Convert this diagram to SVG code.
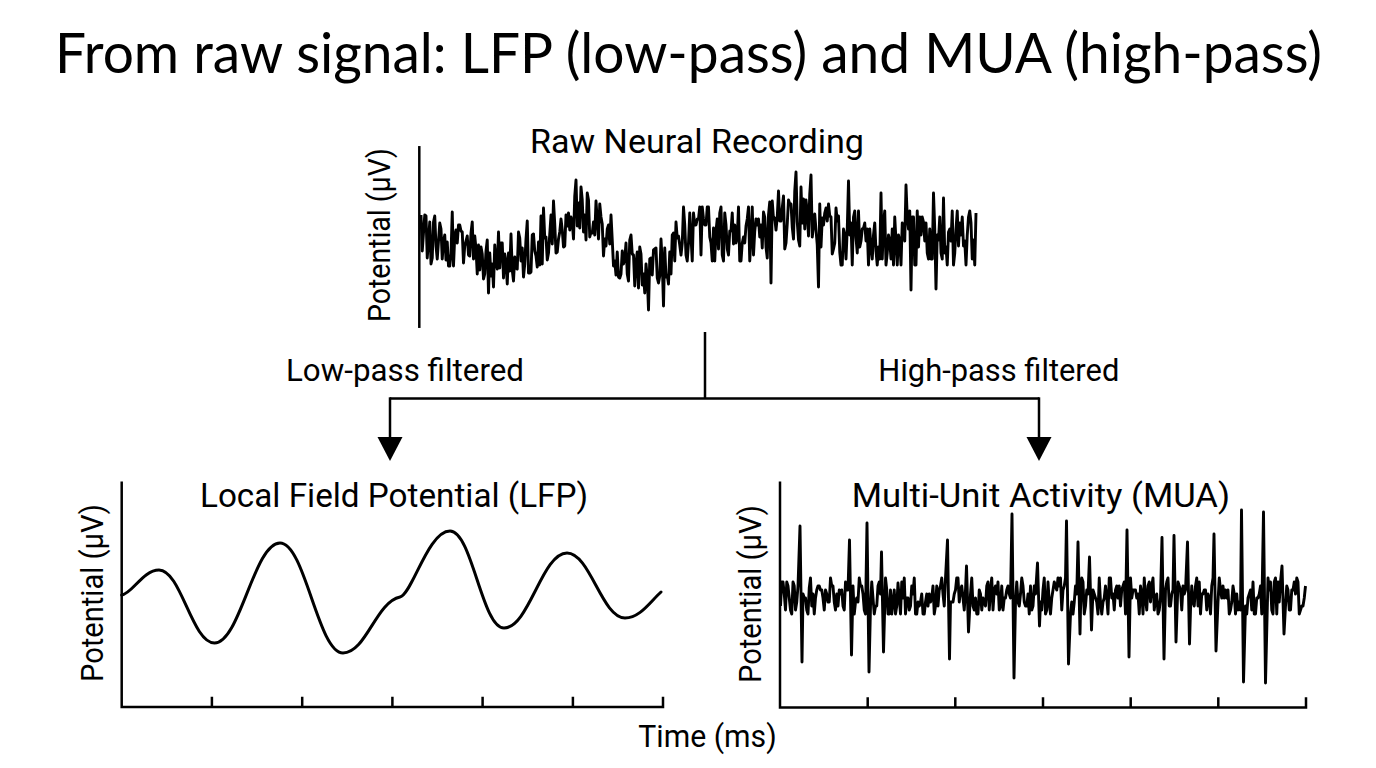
<svg xmlns="http://www.w3.org/2000/svg" width="1376" height="768" viewBox="0 0 1376 768">
<style>
.ax{fill:none;stroke:#000;stroke-width:2.5;stroke-linecap:square}
.sig{fill:none;stroke:#000;stroke-width:2.9;stroke-linejoin:round}
.lfp{fill:none;stroke:#000;stroke-width:3;stroke-linecap:round}
.con{fill:none;stroke:#000;stroke-width:2.5}
.t{font-family:Roboto,"Liberation Sans",sans-serif;fill:#000}
.h{font-size:33px}
.l{font-size:31px}
.title{font-family:Lato,"Open Sans","Liberation Sans",sans-serif;font-size:56px;fill:#000}
</style>
<defs>
<marker id="ah" markerUnits="userSpaceOnUse" markerWidth="25" markerHeight="26" refX="0" refY="12.5" orient="auto" viewBox="0 0 25 25">
<path d="M0,0 L24,12.5 L0,25 Z" fill="#000"/>
</marker>
</defs>
<rect width="1376" height="768" fill="#fff"/>
<text id="title" class="title" x="55" y="73" textLength="1267" lengthAdjust="spacingAndGlyphs">From raw signal: LFP (low-pass) and MUA (high-pass)</text>

<g id="raw">
<text class="t h" x="530" y="153" textLength="334" lengthAdjust="spacingAndGlyphs">Raw Neural Recording</text>
<text class="t l" transform="translate(389.5,235) rotate(-90)" text-anchor="middle" textLength="174" lengthAdjust="spacingAndGlyphs">Potential (μV)</text>
<path class="ax" d="M419.3,147.3 V326.7"/>
<polyline class="sig" vector-effect="non-scaling-stroke" transform="translate(421,0) scale(1.25,1)" points="0,215 1,251 2,233 3,215 4,216 5,258 6,240 7,222 8,264 9,258 10,222 11,216 12,246 13,259 14,241 15,223 16,229 17,259 18,241 19,235 20,260 21,242 22,266 23,266 24,254 25,212 26,266 27,236 28,230 29,243 30,225 31,225 32,231 33,232 34,263 35,246 36,241 37,236 38,255 39,256 40,233 41,222 42,259 43,236 44,249 45,274 46,245 47,270 48,247 49,254 50,279 51,274 52,251 53,240 54,293 55,253 56,276 57,264 58,287 59,245 60,263 61,269 62,232 63,268 64,243 65,243 66,278 67,254 68,262 69,284 70,253 71,271 72,234 73,270 74,281 75,257 76,268 77,269 78,232 79,238 80,261 81,248 82,277 83,264 84,239 85,221 86,273 87,273 88,272 89,235 90,234 91,251 92,256 93,267 94,242 95,265 96,216 97,264 98,208 99,238 100,237 101,260 102,253 103,234 104,215 105,244 106,201 107,224 108,253 109,252 110,239 111,232 112,219 113,230 114,247 115,246 116,215 117,226 118,213 119,230 120,217 121,222 122,239 123,196 124,180 125,226 126,203 127,228 128,187 129,200 130,232 131,215 132,240 133,193 134,200 135,237 136,232 137,233 138,222 139,235 140,201 141,220 142,239 143,204 144,217 145,224 146,256 147,239 148,246 149,229 150,225 151,244 152,215 153,240 154,266 155,261 156,275 157,252 158,277 159,278 160,274 161,251 162,264 163,259 164,243 165,274 166,281 167,240 168,235 169,254 170,255 171,286 172,263 173,252 174,288 175,247 176,254 177,285 178,274 179,293 180,264 181,277 182,310 183,259 184,258 185,275 186,250 187,249 188,248 189,278 190,283 191,276 192,239 193,262 194,306 195,248 196,277 197,275 198,284 199,252 200,274 201,235 202,233 203,261 204,222 205,238 206,236 207,245 208,255 209,243 210,207 211,225 212,255 213,261 214,243 215,213 216,237 217,261 218,213 219,225 220,225 221,219 222,219 223,207 224,255 225,207 226,219 227,225 228,225 229,207 230,207 231,237 232,243 233,261 234,228 235,261 236,231 237,219 238,249 239,213 240,207 241,255 242,261 243,213 244,225 245,249 246,255 247,231 248,231 249,213 250,244 251,225 252,243 253,237 254,207 255,261 256,261 257,243 258,237 259,243 260,226 261,219 262,207 263,261 264,237 265,207 266,255 267,231 268,219 269,225 270,219 271,237 272,225 273,248 274,212 275,217 276,247 277,258 278,215 279,202 280,283 281,201 282,219 283,218 284,230 285,217 286,191 287,221 288,221 289,208 290,196 291,249 292,243 293,224 294,200 295,204 296,204 297,227 298,239 299,191 300,172 301,222 302,240 303,246 304,187 305,223 306,199 307,229 308,200 309,212 310,236 311,194 312,175 313,237 314,225 315,214 316,230 317,245 318,287 319,204 320,247 321,218 322,225 323,213 324,208 325,221 326,204 327,216 328,217 329,254 330,249 331,243 332,208 333,221 334,216 335,252 336,265 337,265 338,229 339,235 340,259 341,229 342,181 343,235 344,223 345,265 346,217 347,211 348,238 349,253 350,211 351,247 352,241 353,229 354,228 355,223 356,241 357,229 358,265 359,229 360,247 361,259 362,235 363,223 364,251 365,265 366,247 367,259 368,193 369,259 370,223 371,211 372,265 373,253 374,235 375,241 376,259 377,229 378,265 379,217 380,241 381,265 382,235 383,241 384,265 385,223 386,229 387,241 388,185 389,217 390,229 391,211 392,290 393,217 394,217 395,265 396,265 397,211 398,247 399,217 400,235 401,217 402,222 403,241 404,223 405,253 406,259 407,229 408,259 409,259 410,193 411,229 412,289 413,235 414,240 415,217 416,253 417,259 418,198 419,253 420,247 421,265 422,232 423,229 424,241 425,211 426,265 427,253 428,229 429,211 430,246 431,223 432,235 433,217 434,246 435,241 436,265 437,235 438,217 439,211 440,223 441,259 442,240 443,265 444,213"/>
</g>

<g id="lfp">
<text class="t h" x="200" y="507.3" textLength="388" lengthAdjust="spacingAndGlyphs">Local Field Potential (LFP)</text>
<text class="t l" transform="translate(103,593) rotate(-90)" text-anchor="middle" textLength="178" lengthAdjust="spacingAndGlyphs">Potential (μV)</text>
<path class="ax" d="M121.7,482.7 V707 H663 M211.9,698 V707 M302.2,698 V707 M392.4,698 V707 M482.6,698 V707 M572.9,698 V707 M663,698 V707"/>
<path class="lfp" d="M121.7,595 C132,594 143,570 159,570 C181,570 192,643 214.5,643 C240,643 254,543 280,543 C305,543 318,653 343,653 C366,653 376,602 400,597 C412,594.5 428,531 450,531 C472,531 482,628 504,628 C529,628 542,553 567,553 C590,553 602,618 625,618 C640,618 650,602 661,592"/>
</g>

<g id="mua">
<text class="t h" x="851.7" y="506.7" textLength="378.3" lengthAdjust="spacingAndGlyphs">Multi-Unit Activity (MUA)</text>
<text class="t l" transform="translate(760.7,594) rotate(-90)" text-anchor="middle" textLength="178" lengthAdjust="spacingAndGlyphs">Potential (μV)</text>
<path class="ax" d="M780,482.7 V707.5 H1306 M867.7,698.5 V707.5 M955.3,698.5 V707.5 M1043,698.5 V707.5 M1130.7,698.5 V707.5 M1218.3,698.5 V707.5 M1306,698.5 V707.5"/>
<polyline class="sig" vector-effect="non-scaling-stroke" transform="translate(780.5,0) scale(1.25,1)" points="0,606 1,582 2,582 3,594 4,610 5,582 6,586 7,598 8,610 9,614 10,582 11,586 12,610 13,602 14,586 15.6,526 17.2,662 18,594 19,598 20,598 21,610 22,614 23,588 24,578 25,606 26,594 27,614 28,598 29,590 30,586 31,586 32,590 33,590 34,598 35,610 36,590 37,594 38,602 39,602 40,578 41,586 42,586 43,602 44,610 45,594 46,606 47,590 48,594 49,590 50,606 51,610 52,582 53,590 54,590 55.2,540 56.8,655 58,586 59,614 60,602 61,598 62,602 63,578 64,586 65,586 66,594 67,610 68,614 69.2,523 70.8,672 72,606 73,582 74,598 75,614 76,606 77,606 78,586 79,582 80,594 80.8,552 82.4,652 84,578 85,590 86,614 87,614 88,590 89,614 90,602 91,590 92,614 93,606 94,583 95,598 96,614 97,582 98,598 99,578 100,614 101,598 102,598 103,610 104,606 105,586 106,594 107,578 108,614 109,614 110,602 111,606 112,602 113,594 114,614 115,614 116,602 117,594 118,606 119,594 120,602 121,598 122,586 123,614 124,606 125,586 126,606 127,590 128,586 129,578 130,594 131,606 132,578 133.6,540 135.2,659 136,602 137,602 138,602 139,594 140,590 141,578 142,578 143,602 144,590 145,586 146,598 147,610 148,590 148.8,566 150.4,632 152,594 153,578 154,606 155,610 156,598 157,614 158,614 159,590 160,594 161,610 162,598 163,602 164,606 165,586 166,582 167,610 168,590 169,578 170,610 171,590 172,586 173,594 174,582 175,610 176,606 177,586 178,610 179,598 180,598 181,590 182,586 183,594 184,598 185.2,514 186.8,678 188,602 189,582 190,602 191,606 192,594 193,578 194,586 195,602 196,606 197,606 198,594 199,614 200,586 201,610 202,606 203,586 204,594 205.6,563 207.2,626 208,602 209,610 210,590 211,578 212,614 213,610 214,582 215,602 216,614 217,598 218,590 219,582 220,586 221,590 222,578 223,586 224,578 225,610 226,590 227,586 228,578 228.8,521 230.4,664 232,614 233,602 234,614 235,602 236,586 237,594 238,542 239.6,634 240,610 241,578 242,582 243,614 244,606 245,590 246,594 247.2,557 248.8,630 250,590 251,594 252,598 253,602 254,614 255,578 256,602 257,614 258,602 259,598 260,586 261,598 262,614 263,578 264,578 265,598 266,594 267,610 268,590 269,586 270,598 271,586 272,606 273,590 274,586 275,582 276,614 277.2,530 278.8,657 280,578 281,598 282,590 283,590 284,590 285,598 286,594 287,614 288,586 289,594 290,614 291,578 292,598 293,610 294,586 295,582 296,602 297,586 298,578 299,610 300,598 301,594 302,614 303,610 304,598 305.2,537.5 306.8,659 308,590 309,582 310,578 311,606 312,606 313,594 314,590 314.8,535.5 316.4,642 318,582 319,586 320,590 321,610 322,586 323,594 324,590 325.6,542 327.2,644 328,610 329,586 330,602 331,606 332,586 333,578 334,606 335,582 336,614 337,594 338,594 339,590 340,590 341,610 342,594 343,598 344,614 345,586 346,578 346.8,534 348.4,651 350,602 351,578 352,590 353,598 354,586 355,598 356,590 357,598 358,590 359,614 360,610 361,602 362,586 363,594 364,614 365,594 366,610 367,602 368,610 368.8,510 370.4,682 372,606 373,614 374,598 375,594 376,590 377,610 378,582 379,614 380,614 381,598 382,598 383,594 384,586 385,614 386.4,512 388,683 390,578 391,590 392,582 393,610 394,614 395,582 396,578 397,614 398,582 399,602 400,582 401.2,566 402.8,634 404,606 405,586 406,590 407,610 408,610 409,590 410,590 411,582 412,594 413,578 414,582 415,614 416,610 417,606 418,606 419,598 420,586"/>
</g>

<g id="connectors">
<path class="con" d="M705,332 V398.5 M390,398.5 H1039"/>
<path class="con" d="M390,397.3 V437" marker-end="url(#ah)"/>
<path class="con" d="M1039,397.3 V437" marker-end="url(#ah)"/>
<text class="t l" x="286" y="381" textLength="238" lengthAdjust="spacingAndGlyphs">Low-pass filtered</text>
<text class="t l" x="878.3" y="380.5" textLength="241" lengthAdjust="spacingAndGlyphs">High-pass filtered</text>
</g>

<g id="xlabel">
<text class="t l" x="638.3" y="746.7" textLength="138.4" lengthAdjust="spacingAndGlyphs">Time (ms)</text>
</g>
</svg>
